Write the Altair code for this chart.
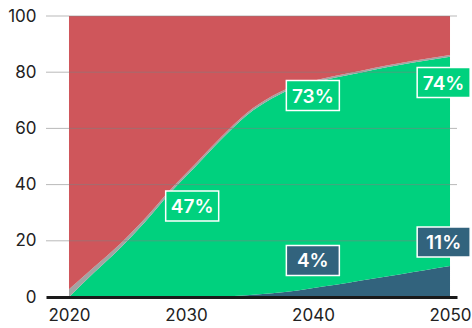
import altair as alt
import pandas as pd

# ---- data (shares in %) ----
years = [2020, 2022, 2024, 2026, 2028, 2030, 2032, 2034, 2036, 2038, 2040, 2042, 2044, 2046, 2048, 2050]
blue_share = [0, 0, 0, 0, 0, 0, 0.1, 0.6, 1.3, 2.3, 3.7, 5.1, 6.6, 8.0, 9.5, 11.0]
green_share = [0, 8.8, 17.3, 26.8, 37.3, 46.6, 56.0, 64.1, 69.4, 72.5, 73.4, 73.9, 74.3, 74.6, 74.6, 74.5]
gray_share = [2.8, 2.0, 1.5, 1.2, 1.0, 1.0, 0.9, 0.8, 0.8, 0.7, 0.7, 0.6, 0.6, 0.6, 0.6, 0.6]
red_share = [97.2, 89.2, 81.2, 72.0, 61.7, 52.4, 43.0, 34.5, 28.5, 24.5, 22.2, 20.4, 18.5, 16.8, 15.3, 13.9]

series_names = ["blue", "green", "gray", "red"]
series_colors = ["#32637D", "#00D17E", "#A3A3A3", "#CF565B"]

label_text = ["47%", "73%", "74%", "4%", "11%"]
label_year = [2029.7, 2039.2, 2049.5, 2039.2, 2049.5]
label_value = [32.4, 71.7, 76.3, 13.0, 19.6]
label_series = ["green", "green", "green", "blue", "blue"]

y_ticks = [0, 20, 40, 60, 80, 100]
grid_values = [20, 40, 60, 80, 100]
x_ticks = [2020, 2030, 2040, 2050]

# ---- tables ----
rows = []
for k, (name, vals) in enumerate(zip(series_names, [blue_share, green_share, gray_share, red_share])):
    for yr, v in zip(years, vals):
        rows.append({"year": yr, "series": name, "share": v, "k": k})
df = pd.DataFrame(rows)
lab = pd.DataFrame({"year": label_year, "value": label_value, "text": label_text, "series": label_series})
grid = pd.DataFrame({"v": grid_values})

FONT = "Inter"
x_scale = alt.Scale(domain=[2018.19, 2050.55], nice=False, zero=False)
y_scale = alt.Scale(domain=[0, 100], nice=False)

areas = alt.Chart(df).mark_area(interpolate="monotone").encode(
    x=alt.X("year:Q", scale=x_scale, axis=alt.Axis(
        values=x_ticks, format="d", grid=False, ticks=False,
        domainColor="#1a1a1a", domainWidth=3,
        labelFont=FONT, labelFontSize=17, labelColor="#222222", labelPadding=10,
        labelOverlap=False, labelBound=False, labelFlush=False,
        labelOffset={"condition": {"test": "datum.value == 2030 || datum.value == 2040", "value": -10}, "value": 0},
        title=None, zindex=1)),
    y=alt.Y("share:Q", stack="zero", scale=y_scale, axis=alt.Axis(
        values=y_ticks, grid=False, ticks=False, domain=False,
        labelFont=FONT, labelFontSize=17, labelColor="#222222", labelPadding=10,
        title=None)),
    color=alt.Color("series:N", scale=alt.Scale(domain=series_names, range=series_colors), legend=None),
    order=alt.Order("k:Q", sort="ascending"),
)

grid_rules = alt.Chart(grid).mark_rule(color="#808080", opacity=0.55, strokeWidth=1).encode(
    y=alt.Y("v:Q", scale=y_scale)
)

boxes = alt.Chart(lab).mark_point(
    shape="M-1,-0.566L1,-0.566L1,0.566L-1,0.566Z", filled=True, size=2809,
    stroke="white", strokeWidth=1.5, opacity=1
).encode(
    x=alt.X("year:Q", scale=x_scale),
    y=alt.Y("value:Q", scale=y_scale),
    fill=alt.Fill("series:N", scale=alt.Scale(domain=series_names, range=series_colors), legend=None),
)

texts = alt.Chart(lab).mark_text(
    color="white", font=FONT, fontSize=19, fontWeight=600, align="center", baseline="middle", dy=1
).encode(
    x=alt.X("year:Q", scale=x_scale),
    y=alt.Y("value:Q", scale=y_scale),
    text="text:N",
)

chart = alt.layer(areas, grid_rules, boxes, texts).properties(
    width=411, height=281,
    autosize=alt.AutoSizeParams(type="none"),
    padding={"left": 46, "top": 16, "right": 15, "bottom": 31},
    background="white",
).configure_view(stroke=None)

chart.save("out.html", embed_options={"renderer": "svg", "actions": False})
